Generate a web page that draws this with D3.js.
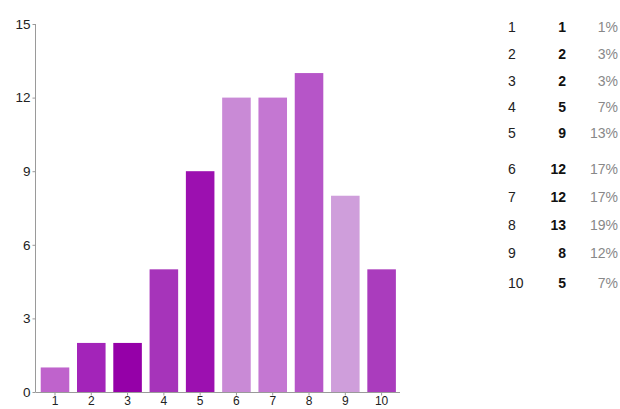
<!DOCTYPE html>
<html>
<head>
<meta charset="utf-8">
<script src="https://cdn.jsdelivr.net/npm/d3@7"></script>
<style>
  html, body { margin: 0; padding: 0; background: #fff; }
  svg { display: block; font-family: "Liberation Sans", Arial, sans-serif; }
</style>
</head>
<body>
<svg id="chart" width="620" height="409"></svg>
<script>
// ---- data ----
const categories = ["1", "2", "3", "4", "5", "6", "7", "8", "9", "10"];
const counts = [1, 2, 2, 5, 9, 12, 12, 13, 8, 5];
const percents = ["1%", "3%", "3%", "7%", "13%", "17%", "17%", "19%", "12%", "7%"];
const yTicks = [0, 3, 6, 9, 12, 15];

// ---- styles / layout ----
const barColors = ["#bf63cc", "#a324b9", "#9500a8", "#a634ba", "#9c10b0",
                   "#c98ad6", "#c477d2", "#b655c8", "#cf9edb", "#aa3cbd"];
const rowY = [27, 54, 81, 107, 133, 169, 197, 225, 253, 283];

const svg = d3.select("#chart");

const x = d3.scaleBand()
  .domain(categories)
  .range([36, 400.6])
  .paddingInner(0.213)
  .paddingOuter(0.13);

const y = d3.scaleLinear()
  .domain([0, 15])
  .range([392, 24]);

// bars
svg.append("g").selectAll("rect")
  .data(categories)
  .join("rect")
  .attr("x", d => x(d))
  .attr("y", (d, i) => y(counts[i]))
  .attr("width", x.bandwidth())
  .attr("height", (d, i) => y(0) - y(counts[i]))
  .attr("fill", (d, i) => barColors[i]);

// y axis
const yAxis = svg.append("g")
  .attr("transform", "translate(35.5,0)")
  .call(d3.axisLeft(y).tickValues(yTicks).tickSize(3).tickPadding(2));
yAxis.select(".domain").attr("stroke", "#9a9a9a").attr("d", `M0,${y(15)}V${y(0)}`);
yAxis.selectAll(".tick line").attr("stroke", "#9a9a9a");
yAxis.selectAll(".tick text").attr("fill", "#222").attr("font-size", 13.5)
  .attr("font-family", "Liberation Sans, Arial, sans-serif");

// x axis
const xAxis = svg.append("g")
  .attr("transform", `translate(0,${y(0) + 0.5})`)
  .call(d3.axisBottom(x).tickSize(3).tickPadding(1));
xAxis.select(".domain").attr("stroke", "#9a9a9a").attr("d", "M35.5,0H400");
xAxis.selectAll(".tick line").attr("stroke", "#9a9a9a");
xAxis.selectAll(".tick text").attr("fill", "#222").attr("font-size", 12)
  .attr("font-family", "Liberation Sans, Arial, sans-serif");

// summary table
const table = svg.append("g").attr("font-size", 14);
table.selectAll("text.idx")
  .data(categories)
  .join("text")
  .attr("class", "idx")
  .attr("x", 508)
  .attr("y", (d, i) => rowY[i])
  .attr("dy", "0.35em")
  .attr("fill", "#222")
  .text(d => d);
table.selectAll("text.cnt")
  .data(counts)
  .join("text")
  .attr("class", "cnt")
  .attr("x", 566)
  .attr("y", (d, i) => rowY[i])
  .attr("dy", "0.35em")
  .attr("text-anchor", "end")
  .attr("font-weight", "bold")
  .attr("fill", "#111")
  .text(d => d);
table.selectAll("text.pct")
  .data(percents)
  .join("text")
  .attr("class", "pct")
  .attr("x", 618)
  .attr("y", (d, i) => rowY[i])
  .attr("dy", "0.35em")
  .attr("text-anchor", "end")
  .attr("fill", "#888")
  .text(d => d);
</script>
</body>
</html>
